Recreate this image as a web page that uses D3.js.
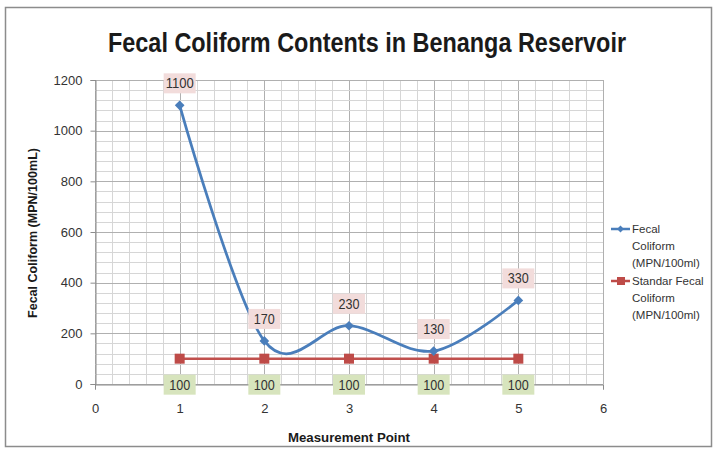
<!DOCTYPE html>
<html><head><meta charset="utf-8">
<script src="https://cdn.jsdelivr.net/npm/d3@7"></script>
<style>body{margin:0;background:#fff}svg{display:block}</style>
</head><body>
<script>
const points = [1, 2, 3, 4, 5];
const fecal = [1100, 170, 230, 130, 330];
const standard = [100, 100, 100, 100, 100];
const seriesNames = ["Fecal Coliform (MPN/100ml)", "Standar Fecal Coliform (MPN/100ml)"];
const xTicks = [0, 1, 2, 3, 4, 5, 6];
const yTicks = [0, 200, 400, 600, 800, 1000, 1200];

const W = 717, H = 451;
const font = "'Liberation Sans Narrow','Liberation Sans',Arial,sans-serif";
const svg = d3.select("body").append("svg").attr("width", W).attr("height", H);

svg.append("rect").attr("x", 5.5).attr("y", 7.5).attr("width", 706).attr("height", 439)
  .attr("fill", "#fff").attr("stroke", "#8c8c8c").attr("stroke-width", 1.5);

const x = d3.scaleLinear().domain([0, 6]).range([95, 603]);
const y = d3.scaleLinear().domain([0, 1200]).range([384, 80]);

// grid
const g = svg.append("g");
d3.range(0, 6.001, 0.2).forEach(v => {
  const major = Math.abs(v - Math.round(v)) < 1e-6;
  g.append("line").attr("x1", Math.round(x(v)) + 0.5).attr("x2", Math.round(x(v)) + 0.5)
    .attr("y1", y(1200)).attr("y2", y(0))
    .attr("stroke", major ? "#b0b0b0" : "#d6d6d6").attr("stroke-width", 1);
});
d3.range(0, 1200.1, 40).forEach(v => {
  const major = v % 200 === 0;
  g.append("line").attr("y1", Math.round(y(v)) + 0.5).attr("y2", Math.round(y(v)) + 0.5)
    .attr("x1", x(0)).attr("x2", x(6))
    .attr("stroke", major ? "#b0b0b0" : "#d6d6d6").attr("stroke-width", 1);
});

// axes
const xAxis = svg.append("g").attr("transform", `translate(0,${y(0) + 0.5})`)
  .call(d3.axisBottom(x).tickValues(xTicks).tickFormat(d3.format("d")).tickSize(5).tickPadding(14));
const yAxis = svg.append("g").attr("transform", `translate(${x(0) + 0.5},0)`)
  .call(d3.axisLeft(y).tickValues(yTicks).tickFormat(d3.format("d")).tickSize(5).tickPadding(8));
[xAxis, yAxis].forEach(a => {
  a.select(".domain").attr("stroke", "#8c8c8c");
  a.selectAll(".tick line").attr("stroke", "#8c8c8c");
  a.selectAll(".tick text").attr("font-family", font).attr("font-size", 13).attr("fill", "#333");
});

// lines
const lineGen = d3.line().x(d => x(d[0])).y(d => y(d[1])).curve(d3.curveCardinal.tension(0));
const fecalData = points.map((p, i) => [p, fecal[i]]);
const stdData = points.map((p, i) => [p, standard[i]]);

svg.append("path").datum(stdData).attr("d", d3.line().x(d => x(d[0])).y(d => y(d[1])))
  .attr("fill", "none").attr("stroke", "#c0504d").attr("stroke-width", 2.5);
svg.append("path").datum(fecalData).attr("d", lineGen)
  .attr("fill", "none").attr("stroke", "#4a7ebb").attr("stroke-width", 2.75);

svg.selectAll(".sq").data(stdData).join("rect")
  .attr("x", d => x(d[0]) - 5).attr("y", d => y(d[1]) - 5).attr("width", 10).attr("height", 10)
  .attr("fill", "#be4b48");
svg.selectAll(".dm").data(fecalData).join("path")
  .attr("d", d3.symbol(d3.symbolDiamond2, 60))
  .attr("transform", d => `translate(${x(d[0])},${y(d[1])})`)
  .attr("fill", "#4a7ebb");

// data labels
function label(cx, cy, txt, bg) {
  svg.append("rect").attr("x", cx - 16).attr("y", cy - 10).attr("width", 32).attr("height", 20).attr("fill", bg);
  svg.append("text").attr("x", cx).attr("y", cy + 5).attr("text-anchor", "middle")
    .attr("font-family", font).attr("font-size", 14).attr("fill", "#333")
    .attr("textLength", String(txt).length * 7).attr("lengthAdjust", "spacingAndGlyphs").text(txt);
}
fecalData.forEach(d => label(x(d[0]), y(d[1]) - 22, d[1], "#f2dcdb"));
stdData.forEach(d => label(x(d[0]), y(d[1]) + 26, d[1], "#d7e4bd"));

// title
svg.append("text").attr("x", 367).attr("y", 52).attr("text-anchor", "middle")
  .attr("font-family", font).attr("font-weight", "bold").attr("font-size", 27).attr("fill", "#1a1a1a")
  .attr("textLength", 518).attr("lengthAdjust", "spacingAndGlyphs")
  .text("Fecal Coliform Contents in Benanga Reservoir");

// axis titles
svg.append("text").attr("x", 349).attr("y", 442).attr("text-anchor", "middle")
  .attr("font-family", font).attr("font-weight", "bold").attr("font-size", 13).attr("fill", "#1a1a1a")
  .attr("textLength", 122).attr("lengthAdjust", "spacingAndGlyphs")
  .text("Measurement Point");
svg.append("text").attr("transform", "translate(37,233) rotate(-90)").attr("text-anchor", "middle")
  .attr("font-family", font).attr("font-weight", "bold").attr("font-size", 13).attr("fill", "#1a1a1a")
  .attr("textLength", 170).attr("lengthAdjust", "spacingAndGlyphs")
  .text("Fecal Coliform (MPN/100mL)");

// legend
const legLines = [["Fecal", "Coliform", "(MPN/100ml)"], ["Standar Fecal", "Coliform", "(MPN/100ml)"]];
const legColors = ["#4a7ebb", "#be4b48"];
legLines.forEach((lines, i) => {
  const ly = 229 + i * 52;
  svg.append("line").attr("x1", 611).attr("x2", 630).attr("y1", ly).attr("y2", ly)
    .attr("stroke", legColors[i]).attr("stroke-width", 2.5);
  if (i === 0) svg.append("path").attr("d", d3.symbol(d3.symbolDiamond2, 30))
    .attr("transform", `translate(620.5,${ly})`).attr("fill", legColors[i]);
  else svg.append("rect").attr("x", 617).attr("y", ly - 4).attr("width", 8).attr("height", 8).attr("fill", legColors[i]);
  lines.forEach((t, j) => {
    svg.append("text").attr("x", 632).attr("y", ly + 4 + j * 17)
      .attr("font-family", font).attr("font-size", 11.5).attr("fill", "#333").text(t);
  });
});
</script>
</body></html>
